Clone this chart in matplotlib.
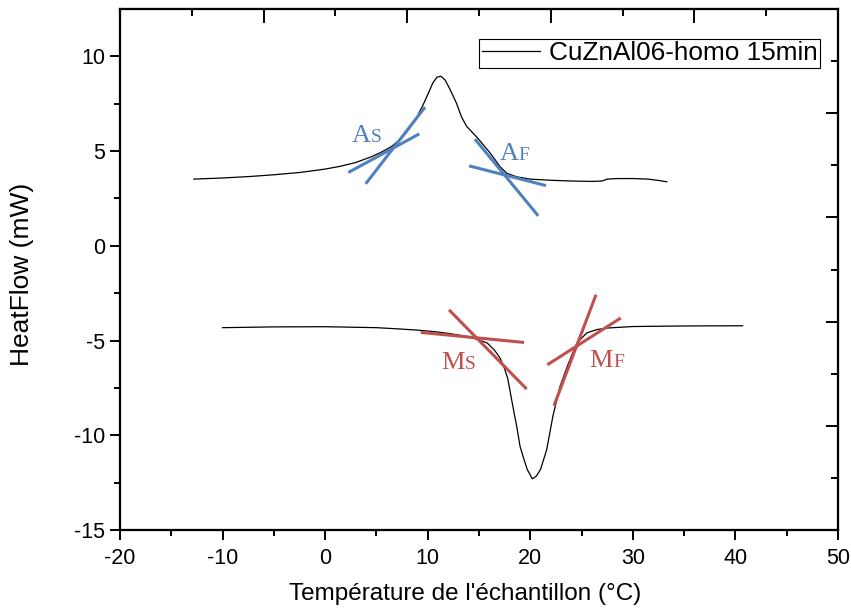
import numpy as np
import matplotlib
matplotlib.use("Agg")
import matplotlib.pyplot as plt
from matplotlib.ticker import MultipleLocator, FixedLocator

plt.rcParams['font.family'] = ['Liberation Sans', 'DejaVu Sans']
plt.rcParams['axes.unicode_minus'] = False

# heating curve (upper)
heat_x = [-12.8, -10, -7.3, -5, -2.5, 0, 1.5, 3, 4.5, 5.5, 6.5, 7.5, 8.3, 9.0, 9.6,
          10.1, 10.5, 10.9, 11.3, 11.7, 12.2, 12.8, 13.3, 13.8, 14.8, 16.1, 17.05,
          17.7, 18.7, 20, 22, 24, 26, 27, 27.5, 28.5, 30, 31.5, 32.5, 33.3]
heat_y = [3.52, 3.58, 3.66, 3.75, 3.87, 4.05, 4.2, 4.4, 4.7, 4.95, 5.25, 5.7, 6.25, 6.85, 7.5,
          8.1, 8.6, 8.9, 8.95, 8.75, 8.23, 7.53, 6.8, 6.3, 5.73, 4.89, 4.18,
          3.83, 3.64, 3.52, 3.46, 3.42, 3.40, 3.42, 3.52, 3.55, 3.55, 3.52, 3.45, 3.38]

# cooling curve (lower)
cool_x = [-10, -5, 0, 5, 7.3, 9, 10.5, 12, 13.8, 14.8, 15.8, 16.5, 17.05, 17.5, 17.8,
          18.3, 18.7, 19.0, 19.4, 19.7, 20.2, 20.6, 21.0, 21.6, 22.2, 22.9, 23.6,
          24.1, 24.55, 25.5, 26.5, 27.5, 30, 35, 40.7]
cool_y = [-4.32, -4.28, -4.27, -4.32, -4.39, -4.45, -4.52, -4.62, -4.78, -4.93, -5.13, -5.5,
          -5.92, -6.5, -7.0, -8.47, -9.6, -10.58, -11.3, -11.8, -12.3, -12.15, -11.8,
          -10.76, -9.0, -7.42, -6.37, -5.7, -5.13, -4.60, -4.42, -4.34, -4.26, -4.23, -4.22]

# tangent lines: (x0, y0, x1, y1)
blue_lines = [(3.95, 3.27, 9.74, 7.32), (2.26, 3.87, 9.18, 5.91),
              (14.61, 5.63, 20.78, 1.58), (14.03, 4.22, 21.53, 3.18)]
red_lines = [(9.32, -4.57, 19.39, -5.10), (12.08, -3.38, 19.65, -7.56),
             (26.41, -2.58, 22.31, -8.44), (28.82, -3.81, 21.66, -6.28)]

# labels: big letter, small letter, anchor
blue_labels = [("A", "S", 4.41, 5.49), ("A", "F", 18.85, 4.54)]
red_labels = [("M", "S", 13.59, -6.49), ("M", "F", 28.07, -6.38)]

blue = '#4F81BD'
red = '#C0504D'

fig = plt.figure(figsize=(8.51, 6.14), dpi=100)
ax = fig.add_axes([120/851, 1-530/614, 718/851, 521/614])

ax.plot(heat_x, heat_y, color='black', lw=0.9, label='CuZnAl06-homo 15min')
ax.plot(cool_x, cool_y, color='black', lw=0.9)

for x0, y0, x1, y1 in blue_lines:
    ax.plot([x0, x1], [y0, y1], color=blue, lw=2.2, solid_capstyle='butt')
for x0, y0, x1, y1 in red_lines:
    ax.plot([x0, x1], [y0, y1], color=red, lw=2.2, solid_capstyle='butt')

for labels, col in [(blue_labels, blue), (red_labels, red)]:
    for big, small, lx, ly in labels:
        ax.text(lx, ly, big, color=col, fontsize=19, family='Liberation Serif',
                ha='right', va='baseline')
        ax.text(lx, ly, small, color=col, fontsize=14, family='Liberation Serif',
                ha='left', va='baseline')

ax.set_xlim(-20, 50)
ax.set_ylim(-15, 12.5)
ax.set_xticks(np.arange(-20, 51, 10))
ax.set_yticks(np.arange(-15, 11, 5))
ax.xaxis.set_minor_locator(MultipleLocator(5))
ax.yaxis.set_minor_locator(FixedLocator(np.arange(-12.5, 11, 5)))
ax.tick_params(which='major', direction='out', length=7, width=1.4, labelsize=15.5,
               top=False, right=False)
ax.tick_params(which='minor', direction='out', length=4, width=1.4, top=False, right=False)
ax.tick_params(axis='x', pad=6)

# top and right axes with their own ticks
axt = ax.twiny()
axt.set_xlim(-20, 50)
axt.set_xticks(np.linspace(-20, 50, 6))
axt.xaxis.set_minor_locator(FixedLocator(np.linspace(-13, 43, 5)))
axt.tick_params(which='major', direction='in', length=10, width=1.4, labeltop=False)
axt.tick_params(which='minor', direction='in', length=5, width=1.4)
axr = ax.twinx()
axr.set_ylim(-15, 12.5)
axr.set_yticks(np.linspace(-15, 12.5, 6))
axr.yaxis.set_minor_locator(FixedLocator(np.linspace(-12.25, 9.75, 5)))
axr.tick_params(which='major', direction='in', length=9, width=1.4, labelright=False)
axr.tick_params(which='minor', direction='in', length=5, width=1.4)

for a in (ax, axt, axr):
    for s in a.spines.values():
        s.set_linewidth(1.5)

ax.set_xlabel("Température de l'échantillon (°C)", fontsize=17.5)
ax.xaxis.set_label_coords(0.48, -0.102)
ax.set_ylabel("HeatFlow (mW)", fontsize=19)
ax.yaxis.set_label_coords(-0.12, 0.49)

leg = ax.legend(loc='upper right', bbox_to_anchor=(0.975, 0.943), borderaxespad=0,
                fontsize=18.8, borderpad=0.1, handlelength=2.2, handletextpad=0.35,
                fancybox=False, framealpha=1, edgecolor='black')
leg.get_frame().set_linewidth(0.8)

fig.savefig('out.png', dpi=100)
